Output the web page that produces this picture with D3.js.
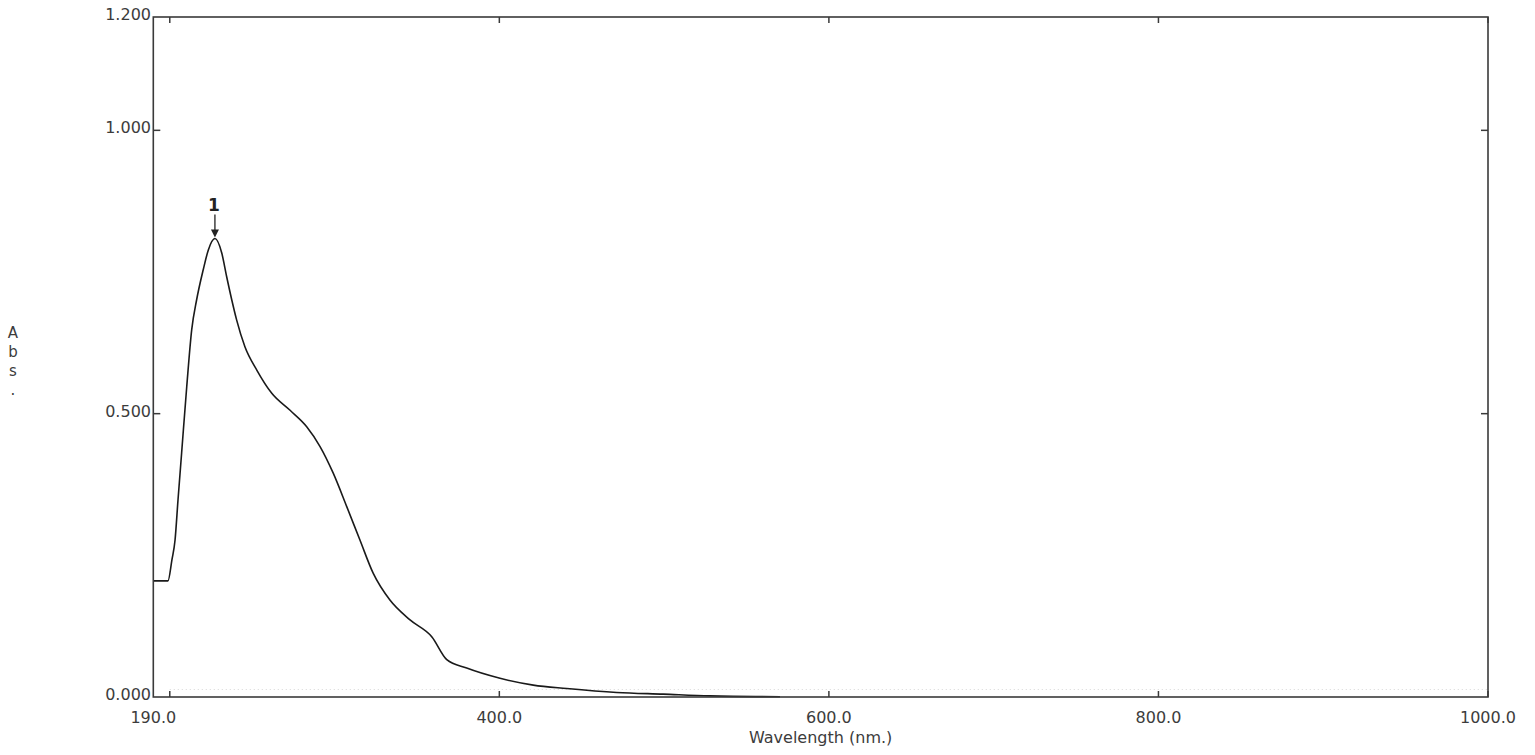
<!DOCTYPE html>
<html>
<head>
<meta charset="utf-8">
<script src="https://cdn.jsdelivr.net/npm/d3@7/dist/d3.min.js"></script>
<style>
  html, body { margin: 0; padding: 0; background: #fff; }
  svg { display: block; }
  text { font-family: "DejaVu Sans", sans-serif; }
</style>
</head>
<body>
<svg id="chart" width="1535" height="755"></svg>
<script>
// ---- data ----
const wavelength = [190.0, 198.9, 201.3, 203.2, 205.0, 207.2, 210.3, 213.3, 216.3, 220.3,
  223.4, 227.4, 231.5, 234.5, 237.6, 240.6, 245.6, 252.8, 261.9, 273.0,
  283.1, 291.2, 299.2, 307.4, 315.4, 323.5, 333.6, 345.8, 359.1, 368.1,
  380.2, 400.4, 420.6, 440.9, 471.2, 499.5, 527.8, 570.3];
const absorbance = [0.205, 0.205, 0.242, 0.277, 0.348, 0.431, 0.548, 0.648, 0.701, 0.754,
  0.789, 0.809, 0.784, 0.742, 0.701, 0.665, 0.618, 0.577, 0.536, 0.506,
  0.477, 0.442, 0.395, 0.336, 0.277, 0.218, 0.171, 0.136, 0.106, 0.066,
  0.051, 0.033, 0.021, 0.015, 0.008, 0.005, 0.002, 0.0005];
const xTickMarks = [200, 400, 600, 800, 1000];
const xTickLabels = [190, 400, 600, 800, 1000];
const yTickValues = [0, 0.5, 1.0, 1.2];
const peakWavelength = [227.4];
const peakAbsorbance = [0.809];
const peakLabels = ["1"];
const xTitle = "Wavelength (nm.)";
const yTitleChars = ["A", "b", "s", "."];

// ---- layout ----
const svg = d3.select("#chart");
const pLeft = 153.3, pRight = 1488, pTop = 17, pBottom = 697;
const x = d3.scaleLinear().domain([190, 1000]).range([pLeft, pRight]);
const y = d3.scaleLinear().domain([0, 1.2]).range([pBottom, pTop]);
const frameColor = "#3a3a3a";
const textColor = "#3c3c3c";

// faint dotted baseline
svg.append("line")
  .attr("x1", x(200)).attr("x2", pRight)
  .attr("y1", pBottom - 7.5).attr("y2", pBottom - 7.5)
  .attr("stroke", "#d8d8d8").attr("stroke-width", 1)
  .attr("stroke-dasharray", "1,3");

// curve
const pts = wavelength.map((w, i) => [w, absorbance[i]]);
svg.append("path")
  .datum(pts)
  .attr("fill", "none")
  .attr("stroke", "#1a1a1a")
  .attr("stroke-width", 1.6)
  .attr("stroke-linejoin", "round")
  .attr("d", d3.line().x(d => x(d[0])).y(d => y(d[1])).curve(d3.curveMonotoneX));

// frame
svg.append("rect")
  .attr("x", pLeft).attr("y", pTop)
  .attr("width", pRight - pLeft).attr("height", pBottom - pTop)
  .attr("fill", "none").attr("stroke", frameColor).attr("stroke-width", 1.6);

// x ticks (inward, bottom and top)
const tl = 6;
xTickMarks.forEach(v => {
  svg.append("line").attr("x1", x(v)).attr("x2", x(v))
    .attr("y1", pBottom).attr("y2", pBottom - tl)
    .attr("stroke", frameColor).attr("stroke-width", 1.5);
  svg.append("line").attr("x1", x(v)).attr("x2", x(v))
    .attr("y1", pTop).attr("y2", pTop + tl)
    .attr("stroke", frameColor).attr("stroke-width", 1.5);
});
// x tick labels
svg.append("g").selectAll("text").data(xTickLabels).join("text")
  .attr("x", d => x(d)).attr("y", 723)
  .attr("text-anchor", "middle")
  .attr("font-size", 16)
  .attr("fill", textColor)
  .text(d => d3.format(".1f")(d));

// y ticks (inward, left and right)
yTickValues.filter(v => v > 0 && v < 1.2).forEach(v => {
  svg.append("line").attr("x1", pLeft).attr("x2", pLeft + 7)
    .attr("y1", y(v)).attr("y2", y(v))
    .attr("stroke", frameColor).attr("stroke-width", 1.5);
  svg.append("line").attr("x1", pRight).attr("x2", pRight - 7)
    .attr("y1", y(v)).attr("y2", y(v))
    .attr("stroke", frameColor).attr("stroke-width", 1.5);
});
// y tick labels
svg.append("g").selectAll("text").data(yTickValues).join("text")
  .attr("x", 151).attr("y", d => y(d) + 3)
  .attr("text-anchor", "end")
  .attr("font-size", 16)
  .attr("fill", textColor)
  .text(d => d3.format(".3f")(d));

// axis titles
svg.append("text")
  .attr("x", (x(190) + x(1000)) / 2).attr("y", 743)
  .attr("text-anchor", "middle")
  .attr("font-size", 16)
  .attr("fill", textColor)
  .text(xTitle);

svg.append("g").selectAll("text").data(yTitleChars).join("text")
  .attr("x", 13).attr("y", (d, i) => 338 + i * 19)
  .attr("text-anchor", "middle")
  .attr("font-size", 15)
  .attr("fill", textColor)
  .text(d => d);

// peak marker
peakWavelength.forEach((w, i) => {
  const px = x(w), py = y(peakAbsorbance[i]);
  svg.append("text")
    .attr("x", px - 1).attr("y", py - 28)
    .attr("text-anchor", "middle")
    .attr("font-size", 17)
    .attr("font-weight", "bold")
    .attr("fill", "#222")
    .text(peakLabels[i]);
  svg.append("line")
    .attr("x1", px).attr("x2", px)
    .attr("y1", py - 24).attr("y2", py - 6)
    .attr("stroke", "#222").attr("stroke-width", 1.3);
  svg.append("path")
    .attr("d", `M${px - 4},${py - 9} L${px + 4},${py - 9} L${px},${py - 1} Z`)
    .attr("fill", "#222");
});
</script>
</body>
</html>
